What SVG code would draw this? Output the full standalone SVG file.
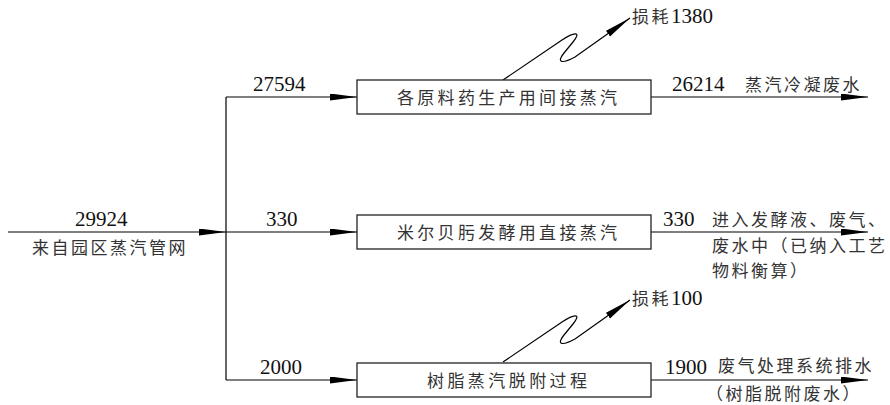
<svg xmlns="http://www.w3.org/2000/svg" width="890" height="405" viewBox="0 0 890 405">
<defs>
<marker id="arr" markerUnits="userSpaceOnUse" markerWidth="28" markerHeight="8" refX="27" refY="3.5" orient="auto">
<path d="M0,0 L27,3.5 L0,7 z" fill="#000"/>
</marker>
<style>
.ln{fill:none;stroke:#000;stroke-width:1.2}
.box{fill:#fff;stroke:#222;stroke-width:1.3}
.num{font-family:"Liberation Serif","Times New Roman",serif;font-size:21px;fill:#111}
.cn{font-family:"Noto Sans CJK SC","Liberation Serif",sans-serif;font-size:17px;fill:#333;letter-spacing:2.5px}
.bx{font-family:"Noto Sans CJK SC","Liberation Serif",sans-serif;font-size:17px;fill:#333}
</style>
</defs>
<rect width="890" height="405" fill="#fff"/>
<g id="connectors">
<path class="ln" d="M8,232 H226" marker-end="url(#arr)"/>
<path class="ln" d="M226,97 V380"/>
<path class="ln" d="M226,97 H357" marker-end="url(#arr)"/>
<path class="ln" d="M226,232 H357" marker-end="url(#arr)"/>
<path class="ln" d="M226,380 H357" marker-end="url(#arr)"/>
<path class="ln" d="M651,97 H868" marker-end="url(#arr)"/>
<path class="ln" d="M651,232 H868" marker-end="url(#arr)"/>
<path class="ln" d="M651,380 H868" marker-end="url(#arr)"/>
<path class="ln" d="M503,80 L562,40 C574,32 582,31 573,42 L564,53 C556,63 562,64 575,57 L630,18" marker-end="url(#arr)"/>
<path class="ln" d="M503,362 L562,322 C574,314 582,313 573,324 L564,335 C556,345 562,346 575,339 L630,300" marker-end="url(#arr)"/>
</g>
<g id="source">
<text class="num" x="75" y="226">29924</text>
<text class="cn" x="32" y="254">来自园区蒸汽管网</text>
</g>
<g id="branch-labels">
<text class="num" x="253" y="91">27594</text>
<text class="num" x="266" y="226">330</text>
<text class="num" x="260" y="374">2000</text>
</g>
<g id="node-indirect">
<rect class="box" x="357" y="80" width="294" height="34"/>
<text class="bx" x="397" y="103.5" textLength="220" lengthAdjust="spacing">各原料药生产用间接蒸汽</text>
</g>
<g id="node-direct">
<rect class="box" x="357" y="215" width="294" height="34"/>
<text class="bx" x="397" y="238.5" textLength="220" lengthAdjust="spacing">米尔贝肟发酵用直接蒸汽</text>
</g>
<g id="node-resin">
<rect class="box" x="357" y="363" width="294" height="34"/>
<text class="bx" x="427" y="386.5" textLength="160" lengthAdjust="spacing">树脂蒸汽脱附过程</text>
</g>
<g id="loss-1">
<text class="cn" x="632" y="23">损耗<tspan class="num" style="letter-spacing:0">1380</tspan></text>
</g>
<g id="loss-2">
<text class="cn" x="632" y="305">损耗<tspan class="num" style="letter-spacing:0">100</tspan></text>
</g>
<g id="out-condensate">
<text class="num" x="672" y="91">26214</text>
<text class="cn" x="745" y="91">蒸汽冷凝废水</text>
</g>
<g id="out-ferment">
<text class="num" x="663" y="226">330</text>
<text class="cn" x="712" y="226">进入发酵液、废气、</text>
<text class="cn" x="712" y="252">废水中（已纳入工艺</text>
<text class="cn" x="712" y="277">物料衡算）</text>
</g>
<g id="out-exhaust">
<text class="num" x="665" y="374">1900</text>
<text class="cn" x="718" y="372">废气处理系统排水</text>
<text class="cn" x="706" y="400">（树脂脱附废水）</text>
</g>
</svg>
